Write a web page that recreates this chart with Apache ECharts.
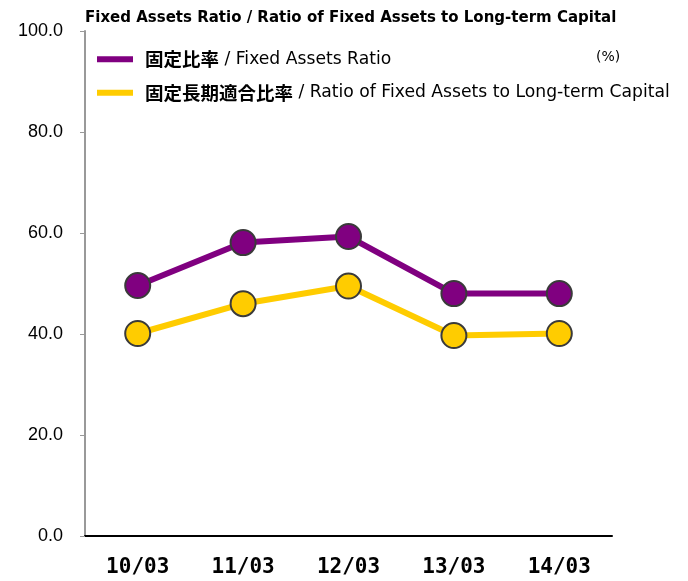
<!DOCTYPE html>
<html>
<head>
<meta charset="utf-8">
<script src="https://cdn.jsdelivr.net/npm/echarts@6/dist/echarts.min.js"></script>
<style>
  html, body { margin: 0; padding: 0; background: #fff; }
  #chart { width: 688px; height: 581px; }
</style>
</head>
<body>
<div id="chart"></div>
<script>
const categories = ['10/03', '11/03', '12/03', '13/03', '14/03'];
const fixedAssetsRatio = [49.6, 58.1, 59.3, 48.0, 48.0];
const fixedToLongTerm = [40.1, 46.0, 49.5, 39.7, 40.1];
const yTicks = [0, 20, 40, 60, 80, 100];

const chart = echarts.init(document.getElementById('chart'));

const symbolStyle = {
  borderColor: '#3a3a3a',
  borderWidth: 2
};

const option = {
  backgroundColor: '#fff',
  animation: false,
  title: {
    text: 'Fixed Assets Ratio / Ratio of Fixed Assets to Long-term Capital',
    left: 80,
    top: 6,
    textStyle: {
      fontFamily: 'DejaVu Sans',
      fontSize: 15,
      fontWeight: 'bold',
      color: '#000'
    }
  },
  legend: {
    orient: 'vertical',
    left: 92,
    top: 45,
    itemWidth: 36,
    itemHeight: 6,
    itemGap: 15,
    icon: 'rect',
    itemStyle: { borderWidth: 0 },
    data: ['固定比率', '固定長期適合比率'],
    formatter: (name) => {
      const en = name === '固定比率'
        ? 'Fixed Assets Ratio'
        : 'Ratio of Fixed Assets to Long-term Capital';
      return '{jp|' + name + '}{en| / ' + en + '}';
    },
    textStyle: {
      padding: [0, 0, 0, 7],
      rich: {
        jp: {
          fontFamily: 'Noto Sans CJK JP',
          fontSize: 18.5,
          fontWeight: 'bold',
          color: '#000'
        },
        en: {
          fontFamily: 'DejaVu Sans',
          fontSize: 17.2,
          color: '#000'
        }
      }
    }
  },
  graphic: [{
    type: 'text',
    left: 596,
    top: 50,
    style: {
      text: '(%)',
      fontFamily: 'DejaVu Sans',
      fontSize: 14,
      fill: '#000'
    }
  }],
  grid: {
    left: 85,
    right: 76,
    top: 31,
    bottom: 45
  },
  xAxis: {
    type: 'category',
    data: categories,
    axisLine: { lineStyle: { color: '#000', width: 2 } },
    axisTick: { inside: true, length: 7, lineStyle: { color: '#000', width: 2 } },
    axisLabel: {
      margin: 21,
      fontFamily: 'DejaVu Sans Mono',
      fontWeight: 'bold',
      fontSize: 21,
      color: '#000'
    }
  },
  yAxis: {
    type: 'value',
    min: yTicks[0],
    max: yTicks[yTicks.length - 1],
    interval: 20,
    axisLine: { show: true, lineStyle: { color: '#999', width: 2 } },
    axisTick: { show: true, length: 5, lineStyle: { color: '#999', width: 1 } },
    splitLine: { show: false },
    axisLabel: {
      margin: 22,
      fontFamily: 'Liberation Sans',
      fontSize: 18,
      color: '#000',
      formatter: (v) => v.toFixed(1)
    }
  },
  series: [
    {
      name: '固定比率',
      type: 'line',
      data: fixedAssetsRatio,
      symbol: 'circle',
      symbolSize: 25,
      lineStyle: { color: '#800080', width: 6 },
      itemStyle: Object.assign({ color: '#800080' }, symbolStyle)
    },
    {
      name: '固定長期適合比率',
      type: 'line',
      data: fixedToLongTerm,
      symbol: 'circle',
      symbolSize: 25,
      lineStyle: { color: '#FFCC00', width: 6 },
      itemStyle: Object.assign({ color: '#FFCC00' }, symbolStyle)
    }
  ]
};

chart.setOption(option);
</script>
</body>
</html>
